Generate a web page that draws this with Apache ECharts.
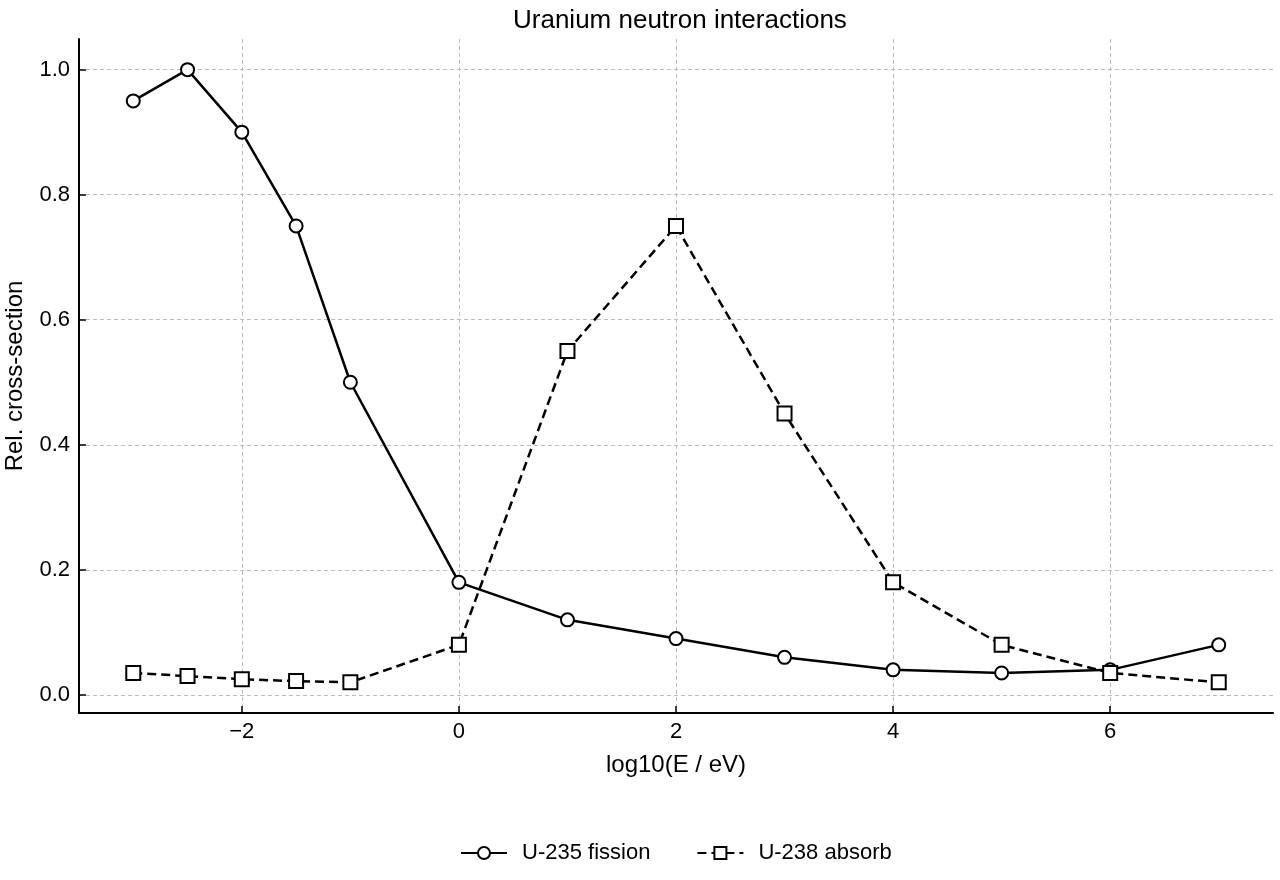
<!DOCTYPE html>
<html>
<head>
<meta charset="utf-8">
<script src="https://cdn.jsdelivr.net/npm/echarts@6/dist/echarts.min.js"></script>
<style>
	html, body { margin: 0; padding: 0; background: #fff; }
	#chart { width: 1280px; height: 880px; }
</style>
</head>
<body>
<div id="chart"></div>
<script>
var logEnergy = [-3, -2.5, -2, -1.5, -1, 0, 1, 2, 3, 4, 5, 6, 7];
var u235Fission = [0.95, 1.0, 0.9, 0.75, 0.5, 0.18, 0.12, 0.09, 0.06, 0.04, 0.035, 0.04, 0.08];
var u238Absorb = [0.035, 0.03, 0.025, 0.022, 0.02, 0.08, 0.55, 0.75, 0.45, 0.18, 0.08, 0.035, 0.02];
var xTicks = [-2, 0, 2, 4, 6];
var yTicks = [0, 0.2, 0.4, 0.6, 0.8, 1.0];

var font = 'Liberation Sans, Arial, Helvetica, sans-serif';

function pairs(ys) {
	return logEnergy.map(function (x, i) {
		return [x, ys[i]];
	});
}

var chart = echarts.init(document.getElementById('chart'));
chart.setOption({
	animation: false,
	title: {
		text: 'Uranium neutron interactions',
		left: 508,
		top: 3,
		textStyle: {
			fontFamily: font,
			fontWeight: 'normal',
			fontSize: 26,
			color: '#000'
		}
	},
	legend: {
		bottom: 11,
		left: 455,
		itemWidth: 46,
		itemHeight: 15,
		itemGap: 46,
		textStyle: {
			fontFamily: font,
			fontSize: 22,
			color: '#000',
			padding: [0, 0, 0, 10]
		},
		data: ['U-235 fission', 'U-238 absorb']
	},
	grid: {
		left: 79,
		right: 7,
		top: 39,
		bottom: 167,
		outerBoundsMode: 'none'
	},
	xAxis: {
		type: 'value',
		min: -3.5,
		max: 7.5,
		name: 'log10(E / eV)',
		nameLocation: 'middle',
		nameGap: 40,
		nameTextStyle: { fontFamily: font, fontSize: 24, color: '#000' },
		axisLine: { onZero: false, lineStyle: { color: '#000', width: 2 } },
		axisTick: { inside: true, length: 7, customValues: xTicks, lineStyle: { color: '#000', width: 1.5 } },
		axisLabel: {
			customValues: xTicks,
			fontFamily: font,
			fontSize: 22,
			color: '#000',
			margin: 8,
			formatter: function (v) {
				return String(v).replace('-', '\u2212');
			}
		},
		splitLine: { show: true, lineStyle: { color: '#bbb', type: [4, 3], width: 1 } }
	},
	yAxis: {
		type: 'value',
		min: -0.029,
		max: 1.049,
		name: 'Rel. cross-section',
		nameLocation: 'middle',
		nameGap: 52,
		nameTextStyle: { fontFamily: font, fontSize: 24, color: '#000' },
		axisLine: { show: true, onZero: false, lineStyle: { color: '#000', width: 2 } },
		axisTick: { show: true, inside: true, length: 7, customValues: yTicks, lineStyle: { color: '#000', width: 1.5 } },
		axisLabel: {
			customValues: yTicks,
			fontFamily: font,
			fontSize: 22,
			color: '#000',
			margin: 9,
			formatter: function (v) {
				return v.toFixed(1);
			}
		},
		splitLine: { show: true, lineStyle: { color: '#bbb', type: [4, 3], width: 1 } }
	},
	series: [{
		name: 'U-235 fission',
		type: 'line',
		data: pairs(u235Fission),
		symbol: 'circle',
		symbolSize: 13,
		itemStyle: { color: '#fff', borderColor: '#000', borderWidth: 2 },
		lineStyle: { color: '#000', width: 2.5, type: 'solid' },
		z: 3
	}, {
		name: 'U-238 absorb',
		type: 'line',
		data: pairs(u238Absorb),
		symbol: 'rect',
		symbolSize: 14,
		itemStyle: { color: '#fff', borderColor: '#000', borderWidth: 2 },
		lineStyle: { color: '#000', width: 2.5, type: [9, 5] },
		z: 4
	}]
});
</script>
</body>
</html>
